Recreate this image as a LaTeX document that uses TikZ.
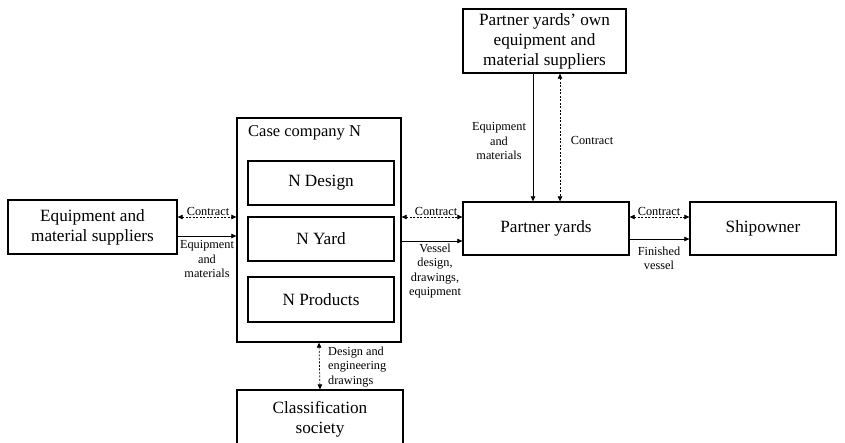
\documentclass[tikz,border=0pt]{standalone}
\usepackage{fontspec}
\setmainfont{Liberation Serif}
\usetikzlibrary{arrows.meta}
\begin{document}
\begin{tikzpicture}[x=1pt,y=-1pt,
  box/.style={draw,line width=1.3pt,align=center,inner sep=0pt,font=\fontsize{17.2}{20}\selectfont},
  lbl/.style={align=center,inner sep=0pt,font=\fontsize{12.3}{14.3}\selectfont},
  conn/.style={line width=0.7pt,-{Triangle[length=5pt,width=4.5pt]}},
  dconn/.style={line width=0.7pt,dashed,dash pattern=on 2pt off 1.5pt,{Triangle[length=5pt,width=4.5pt]}-{Triangle[length=5pt,width=4.5pt]}}]
\useasboundingbox (0,0) rectangle (845,443);
\clip (0,0) rectangle (845,443);
\fill[white] (0,0) rectangle (845,443);
% boxes
\node[box,minimum width=169pt,minimum height=54pt] (equip) at (92.5,227) {Equipment and\\material suppliers};
\node[box,minimum width=164pt,minimum height=224pt] (case) at (319,230) {};
\node[anchor=west,inner sep=0pt,font=\fontsize{16.5}{20}\selectfont] (casetitle) at (248,133) {Case company N};
\node[box,minimum width=146pt,minimum height=44pt] (design) at (321,183) {N Design};
\node[box,minimum width=146pt,minimum height=44pt] (yard) at (321,239) {N Yard};
\node[box,minimum width=146pt,minimum height=45pt] (products) at (321,299.5) {N Products};
\node[box,minimum width=166pt,minimum height=53pt] (partner) at (546,228.5) {Partner yards};
\node[box,minimum width=146pt,minimum height=53pt] (ship) at (763,228.5) {Shipowner};
\node[box,minimum width=163pt,minimum height=64pt] (own) at (544.5,41) {Partner yards’ own\\equipment and\\material suppliers};
\node[box,minimum width=166pt,minimum height=58pt] (class) at (320,419) {Classification\\society};
% connectors
\coordinate (y217) at (0,217);
\coordinate (y236) at (0,236);
\coordinate (y241) at (0,241);
\coordinate (y239) at (0,239);
\coordinate (x533) at (533,0);
\coordinate (x560) at (560,0);
\draw[dconn] (equip.east|-y217) -- (case.west|-y217);
\draw[conn] (equip.east|-y236) -- (case.west|-y236);
\draw[dconn] (case.east|-y217) -- (partner.west|-y217);
\draw[conn] (case.east|-y241) -- (partner.west|-y241);
\draw[dconn] (partner.east|-y217) -- (ship.west|-y217);
\draw[conn] (partner.east|-y239) -- (ship.west|-y239);
\draw[conn] (own.south-|x533) -- (partner.north-|x533);
\draw[dconn] (own.south-|x560) -- (partner.north-|x560);
\draw[dconn] (case.south) -- (class.north);
% labels
\node[lbl] (l1) at (208,211) {Contract};
\node[lbl] (l2) at (207,259) {Equipment\\and\\materials};
\node[lbl] (l3) at (436,211) {Contract};
\node[lbl] (l4) at (435,271) {Vessel\\design,\\drawings,\\equipment};
\node[lbl] (l5) at (659,211) {Contract};
\node[lbl] (l6) at (659,258) {Finished\\vessel};
\node[lbl] (l7) at (499,141) {Equipment\\and\\materials};
\node[lbl] (l8) at (592,140) {Contract};
\node[lbl,align=left,anchor=west] (l9) at (328,367) {Design and\\engineering\\drawings};
\end{tikzpicture}
\end{document}
